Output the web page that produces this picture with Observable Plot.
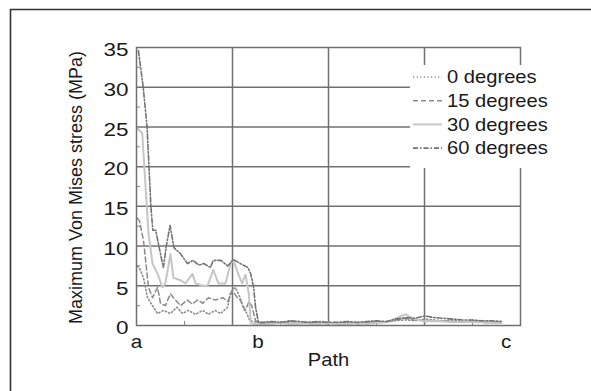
<!DOCTYPE html>
<html>
<head>
<meta charset="utf-8">
<script src="https://cdn.jsdelivr.net/npm/d3@7"></script>
<script src="https://cdn.jsdelivr.net/npm/@observablehq/plot@0.6"></script>
<style>
  html, body { margin: 0; padding: 0; background: #ffffff; }
  #chart { position: relative; width: 591px; height: 391px; }
  svg { font-family: "Liberation Sans", Arial, sans-serif; }
</style>
</head>
<body>
<div id="chart"></div>
<script>
// ---- data (path position in grid units: a = 0, grid every 10) ----
const seriesNames = ["0 degrees", "15 degrees", "30 degrees", "60 degrees"];

const deg0X = [0.1, 0.4, 0.73, 1.15, 1.77, 2.2, 2.8, 3.54, 4.2, 4.8, 5.4, 6.15, 6.9, 7.5, 8.2, 8.75, 9.5, 9.8, 10.3, 10.8, 11.1, 11.5, 11.8];
const deg0Y = [7.5, 7.0, 6.0, 3.5, 2.3, 1.5, 1.9, 1.5, 2.3, 1.5, 1.9, 1.4, 1.9, 1.4, 1.9, 1.5, 2.3, 4.2, 4.8, 3.5, 2.3, 1.5, 0.6];

const deg15X = [0.1, 0.3, 0.73, 0.94, 1.25, 1.67, 2.2, 2.5, 3.0, 3.54, 3.85, 4.58, 5.3, 5.8, 6.35, 6.9, 7.5, 8.2, 9.0, 9.5, 10.0, 10.5, 10.8, 11.35, 11.7, 12.0, 12.4];
const deg15Y = [13.5, 13.2, 10.7, 8.3, 4.8, 3.5, 4.8, 2.8, 2.5, 4.0, 3.5, 2.5, 3.2, 2.7, 3.2, 2.8, 3.5, 3.2, 3.5, 3.0, 4.4, 3.5, 3.2, 1.9, 3.0, 2.5, 0.6];

const deg30X = [0.1, 0.6, 0.9, 1.25, 1.67, 2.2, 2.7, 3.0, 3.54, 3.85, 4.58, 5.1, 5.83, 6.15, 6.9, 7.4, 8.0, 8.54, 9.27, 9.8, 10.1, 10.6, 11.0, 11.35, 11.7, 11.9];
const deg30Y = [24.8, 24.2, 18.3, 11.6, 7.8, 6.5, 4.8, 5.3, 9.0, 6.0, 5.7, 5.3, 6.5, 5.3, 5.0, 5.0, 7.0, 5.3, 5.3, 7.8, 8.2, 6.5, 5.3, 6.4, 4.0, 0.3];

const deg60X = [0.2, 0.7, 1.1, 1.3, 1.5, 1.7, 2.0, 2.5, 2.8, 3.1, 3.5, 3.9, 4.6, 5.3, 5.9, 6.5, 7.0, 7.7, 8.0, 8.8, 9.5, 10.1, 10.8, 11.6, 11.9, 12.2, 12.4, 12.7];
const deg60Y = [34.6, 30, 25, 20, 15, 12, 12, 9, 7.3, 10, 12.6, 9.8, 9, 7.8, 8.2, 7.6, 7.8, 7.3, 8.2, 8.2, 7.5, 8.3, 7.8, 7.3, 6.5, 4.8, 2.3, 0.4];

// low-stress tail after b (shared positions)
const tailX = [13, 14, 15, 16, 17, 18, 19, 20, 21, 22, 23, 24, 25, 26, 27, 28, 29, 30, 31, 32, 33, 34, 35, 36, 37, 38];
const tail0Y  = [0.3, 0.4, 0.3, 0.5, 0.4, 0.3, 0.4, 0.3, 0.3, 0.4, 0.3, 0.4, 0.5, 0.4, 0.6, 0.7, 0.6, 0.8, 0.7, 0.6, 0.7, 0.5, 0.6, 0.5, 0.5, 0.4];
const tail15Y = [0.2, 0.3, 0.4, 0.3, 0.2, 0.4, 0.3, 0.2, 0.3, 0.3, 0.2, 0.3, 0.4, 0.5, 0.7, 0.9, 0.7, 0.6, 0.5, 0.6, 0.5, 0.4, 0.5, 0.4, 0.3, 0.4];
const tail30Y = [0.1, 0.2, 0.3, 0.2, 0.3, 0.2, 0.2, 0.3, 0.2, 0.2, 0.3, 0.2, 0.3, 0.4, 0.9, 1.4, 0.8, 0.5, 0.6, 0.5, 0.4, 0.5, 0.4, 0.4, 0.3, 0.3];
const tail60Y = [0.4, 0.5, 0.4, 0.6, 0.5, 0.4, 0.5, 0.4, 0.4, 0.5, 0.4, 0.5, 0.6, 0.5, 0.8, 1.0, 0.9, 1.2, 1.0, 0.9, 0.8, 0.7, 0.7, 0.6, 0.6, 0.5];

const yTicks = [0, 5, 10, 15, 20, 25, 30, 35];
const xTickPos = [0, 12.66, 38.5];
const xTickLabels = ["a", "b", "c"];
const xGrid = [10, 20, 30];
const yMinor = [2.5, 7.5, 12.5, 17.5, 22.5, 27.5, 32.5];
const xMinor = [5, 15, 25, 35];

// ---- build table ----
const tails = {"0 degrees": tail0Y, "15 degrees": tail15Y, "30 degrees": tail30Y, "60 degrees": tail60Y};
function rows(name, xs, ys) {
  const r = xs.map((x, i) => ({series: name, x, y: ys[i]}));
  return r.concat(tailX.map((x, i) => ({series: name, x, y: tails[name][i]})));
}
const data = [
  ...rows("0 degrees", deg0X, deg0Y),
  ...rows("15 degrees", deg15X, deg15Y),
  ...rows("30 degrees", deg30X, deg30Y),
  ...rows("60 degrees", deg60X, deg60Y)
];

const styles = {
  "0 degrees":  {stroke: "#8c8c8c", strokeWidth: 1.6, strokeDasharray: "1.2 2.4"},
  "15 degrees": {stroke: "#8a8a8a", strokeWidth: 1.5, strokeDasharray: "5 3"},
  "30 degrees": {stroke: "#c6c6c6", strokeWidth: 2,   strokeDasharray: null},
  "60 degrees": {stroke: "#727272", strokeWidth: 1.6, strokeDasharray: "5 2 1.5 2"}
};

const lineMarks = seriesNames.map(name => Plot.line(data.filter(d => d.series === name), {
  x: "x", y: "y",
  stroke: styles[name].stroke,
  strokeWidth: styles[name].strokeWidth,
  strokeDasharray: styles[name].strokeDasharray || undefined,
  curve: "linear"
}));

const chart = Plot.plot({
  width: 591,
  height: 391,
  marginLeft: 136,
  marginRight: 71,
  marginTop: 47,
  marginBottom: 66,
  style: {background: "transparent", fontFamily: "Liberation Sans, Arial, sans-serif"},
  x: {domain: [0, 40], label: null},
  y: {domain: [0, 35], label: null},
  marks: [
    Plot.gridX(xGrid, {stroke: "#707070", strokeOpacity: 1, strokeWidth: 1.5}),
    Plot.gridY(yTicks.slice(1, -1), {stroke: "#707070", strokeOpacity: 1, strokeWidth: 1.5}),
    Plot.axisY(yMinor, {tickSize: -4, text: null, stroke: "#888", anchor: "left", label: null}),
    Plot.axisX(xMinor, {tickSize: -4, text: null, stroke: "#888", anchor: "bottom", label: null}),
    ...lineMarks,
    Plot.frame({stroke: "#707070", strokeWidth: 1.5}),
    Plot.axisY(yTicks, {anchor: "left", tickSize: 0, tickPadding: 8, fontSize: 18, dy: 3, fill: "#1a1a1a", label: null}),
    Plot.axisX(xTickPos, {anchor: "bottom", tickSize: 0, tickPadding: 10, fontSize: 18, fill: "#1a1a1a", tickFormat: (d, i) => xTickLabels[i], label: null}),
    Plot.text(["Path"], {text: d => d, frameAnchor: "bottom", dy: 40, fontSize: 18, fill: "#1a1a1a", className: "xlabel"}),
    Plot.text(["Maximum Von Mises stress (MPa)"], {text: d => d, frameAnchor: "left", textAnchor: "middle", dx: -60, dy: 1, rotate: -90, fontSize: 18, fill: "#1a1a1a"})
  ]
});

document.getElementById("chart").appendChild(chart);

// ---- the reference's horizontal lettering is set wider: stretch horizontally ----
const svg = d3.select(chart);
function stretch(sel, k) {
  sel.each(function() {
    const t = d3.select(this).attr("transform") || "";
    d3.select(this).attr("transform", t + ` scale(${k},1)`);
  });
}
stretch(svg.selectAll('g[aria-label="y-axis tick label"] text'), 1.25);
stretch(svg.selectAll('g[aria-label="x-axis tick label"] text'), 1.15);
stretch(svg.selectAll('g.xlabel text'), 1.12);

// ---- decorations: outer border lines and legend ----
svg.append("line").attr("x1", 10).attr("x2", 591).attr("y1", 9.5).attr("y2", 9.5).attr("stroke", "#333").attr("stroke-width", 1.6);
svg.append("line").attr("x1", 10.5).attr("x2", 10.5).attr("y1", 9).attr("y2", 391).attr("stroke", "#333").attr("stroke-width", 1.6);

const lg = svg.append("g").attr("text-anchor", "start");
lg.append("rect").attr("x", 410).attr("y", 65).attr("width", 145).attr("height", 103).attr("fill", "#ffffff");
seriesNames.forEach((name, i) => {
  const cy = 77 + i * 23.7;
  const s = styles[name];
  lg.append("line").attr("x1", 413).attr("x2", 442).attr("y1", cy).attr("y2", cy)
    .attr("stroke", s.stroke).attr("stroke-width", s.strokeWidth)
    .attr("stroke-dasharray", s.strokeDasharray);
  lg.append("text").attr("transform", `translate(447,${cy}) scale(1.12,1)`).attr("dy", "0.35em")
    .attr("text-anchor", "start")
    .attr("font-size", 18).attr("fill", "#1a1a1a").text(name);
});
</script>
</body>
</html>
